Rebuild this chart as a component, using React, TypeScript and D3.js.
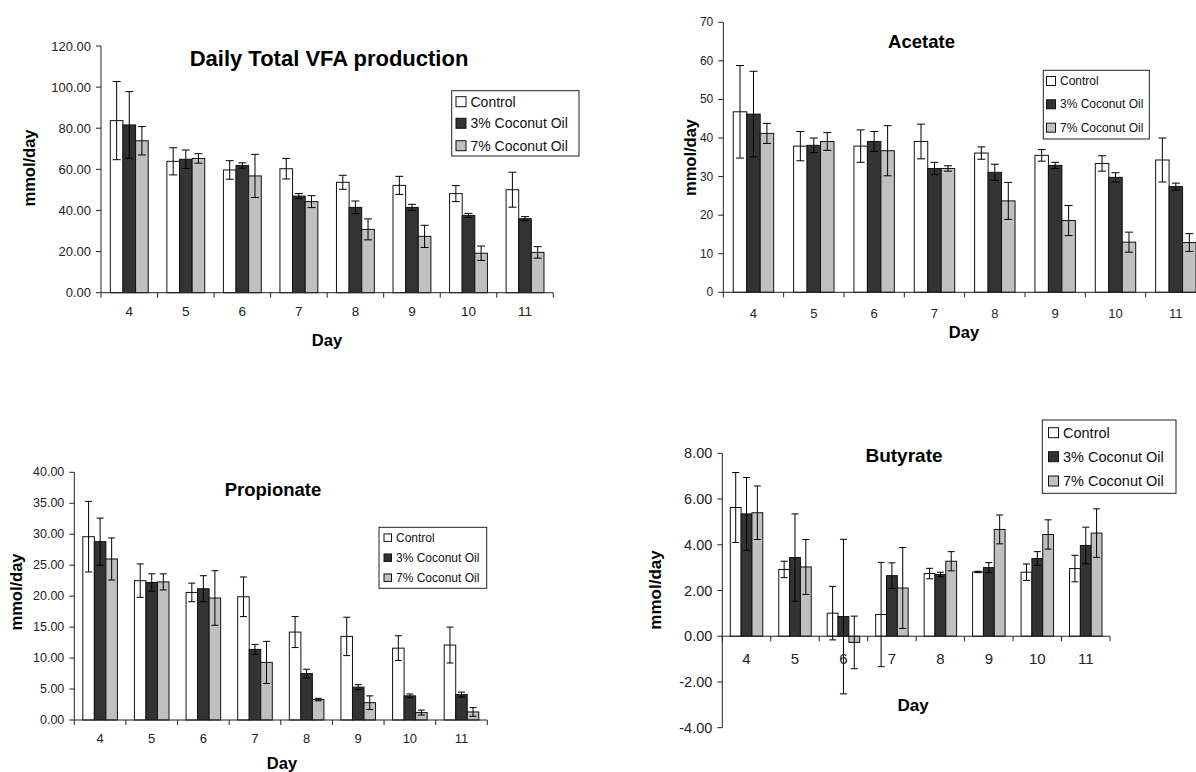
import React from 'react';
import * as d3 from 'd3';

const DAYS = ['4', '5', '6', '7', '8', '9', '10', '11'];
const SERIES = ['Control', '3% Coconut Oil', '7% Coconut Oil'];
const FILLS = ['#FFFFFF', '#333333', '#C0C0C0'];

// Daily total VFA (mmol/day)
const vfaControl = [83.7, 63.9, 59.7, 60.3, 53.7, 52.2, 48.2, 50.1];
const vfaOil3 = [81.6, 64.9, 61.9, 47.0, 41.5, 41.5, 37.6, 36.0];
const vfaOil7 = [73.9, 65.3, 56.8, 44.3, 30.8, 27.4, 19.2, 19.6];
const vfaControlErr = [19.0, 6.6, 4.5, 5.0, 3.4, 4.4, 3.9, 8.5];
const vfaOil3Err = [16.2, 4.5, 1.3, 1.2, 3.1, 1.5, 1.0, 1.0];
const vfaOil7Err = [6.9, 2.3, 10.5, 2.9, 5.1, 5.4, 3.5, 2.8];

// Acetate
const aceControl = [46.8, 37.9, 37.9, 39.1, 36.1, 35.5, 33.4, 34.3];
const aceOil3 = [46.2, 38.1, 39.1, 32.1, 31.1, 32.9, 29.8, 27.4];
const aceOil7 = [41.2, 39.1, 36.7, 32.1, 23.7, 18.6, 13.0, 12.9];
const aceControlErr = [12.0, 3.8, 4.2, 4.5, 1.6, 1.5, 2.0, 5.7];
const aceOil3Err = [11.1, 1.9, 2.6, 1.6, 2.1, 0.8, 1.2, 0.9];
const aceOil7Err = [2.6, 2.3, 6.5, 0.7, 4.8, 3.9, 2.6, 2.3];

// Propionate
const proControl = [29.6, 22.5, 20.6, 19.9, 14.2, 13.5, 11.6, 12.1];
const proOil3 = [28.8, 22.2, 21.2, 11.4, 7.5, 5.3, 3.9, 4.1];
const proOil7 = [26.0, 22.3, 19.7, 9.3, 3.3, 2.8, 1.2, 1.3];
const proControlErr = [5.7, 2.7, 1.5, 3.2, 2.5, 3.1, 2.0, 2.9];
const proOil3Err = [3.8, 1.4, 2.1, 0.8, 0.7, 0.4, 0.3, 0.4];
const proOil7Err = [3.4, 1.3, 4.4, 3.4, 0.2, 1.1, 0.4, 0.7];

// Butyrate
const butControl = [5.63, 2.92, 1.01, 0.95, 2.74, 2.81, 2.80, 2.96];
const butOil3 = [5.35, 3.44, 0.86, 2.65, 2.70, 3.00, 3.40, 3.97];
const butOil7 = [5.40, 3.03, -0.27, 2.11, 3.28, 4.67, 4.45, 4.51];
const butControlErr = [1.53, 0.36, 1.17, 2.28, 0.23, 0.03, 0.36, 0.58];
const butOil3Err = [1.59, 1.91, 3.38, 0.56, 0.10, 0.22, 0.30, 0.80];
const butOil7Err = [1.17, 1.20, 1.15, 1.77, 0.42, 0.63, 0.64, 1.06];

const FONT = "Arial, 'Liberation Sans', sans-serif";

interface PanelProps {
  title: string;
  values: number[][];
  errors: number[][];
  domain: [number, number];
  ticks: number[];
  fmt: (v: number) => string;
  left: number; right: number; top: number; bottom: number;
  tickFont: number; xTickFont: number; xLabelDy: number;
  titleFont: number; titleX: number; titleY: number;
  axisFont: number; dayX: number; dayY: number; yLabX: number; yLabY: number;
  legend: { x: number; y: number; w: number; h: number; rows: number[]; sw: number; tx: number; font: number };
  cap: number;
}

function Panel(p: PanelProps) {
  const y = d3.scaleLinear().domain(p.domain).range([p.bottom, p.top]);
  const x = d3.scaleBand<string>().domain(DAYS).range([p.left, p.right]).paddingInner(0.33).paddingOuter(0.165);
  const xs = d3.scaleBand<number>().domain([0, 1, 2]).range([0, x.bandwidth()]);
  const step = x.step();
  const y0 = y(0);
  const bounds = d3.range(DAYS.length + 1).map(i => p.left + i * step);

  return (
    <g fontFamily={FONT}>
      {/* bars */}
      {p.values.map((vals, s) => vals.map((v, i) => {
        const bx = (x(DAYS[i]) ?? 0) + (xs(s) ?? 0);
        return (
          <rect key={`b${s}-${i}`} x={bx} y={Math.min(y(v), y0)} width={xs.bandwidth()}
            height={Math.abs(y(v) - y0)} fill={FILLS[s]} stroke="#111" strokeWidth={1} />
        );
      }))}
      {/* error bars */}
      {p.values.map((vals, s) => vals.map((v, i) => {
        const cx = (x(DAYS[i]) ?? 0) + (xs(s) ?? 0) + xs.bandwidth() / 2;
        const e = p.errors[s][i];
        const yt = y(v + e), yb = y(v - e);
        return (
          <g key={`e${s}-${i}`} stroke="#000" strokeWidth={1}>
            <line x1={cx} x2={cx} y1={yt} y2={yb} />
            <line x1={cx - p.cap} x2={cx + p.cap} y1={yt} y2={yt} />
            <line x1={cx - p.cap} x2={cx + p.cap} y1={yb} y2={yb} />
          </g>
        );
      }))}
      {/* y axis */}
      <line x1={p.left} x2={p.left} y1={p.top} y2={p.bottom} stroke="#222" />
      {p.ticks.map(t => (
        <g key={`yt${t}`}>
          <line x1={p.left - 5} x2={p.left} y1={y(t)} y2={y(t)} stroke="#222" />
          <text x={p.left - 10} y={y(t)} textAnchor="end" dominantBaseline="central"
            fontSize={p.tickFont} fill="#222">{p.fmt(t)}</text>
        </g>
      ))}
      {/* x axis */}
      <line x1={p.left} x2={p.right} y1={y0} y2={y0} stroke="#222" />
      {bounds.map((b, i) => (
        <line key={`xt${i}`} x1={b} x2={b} y1={y0} y2={y0 + 5} stroke="#222" />
      ))}
      {DAYS.map(d => (
        <text key={`xl${d}`} x={(x(d) ?? 0) + x.bandwidth() / 2} y={y0 + p.xLabelDy}
          textAnchor="middle" dominantBaseline="central" fontSize={p.xTickFont} fill="#222">{d}</text>
      ))}
      {/* titles */}
      <text x={p.titleX} y={p.titleY} textAnchor="middle" fontWeight="bold" fontSize={p.titleFont}>{p.title}</text>
      <text x={p.dayX} y={p.dayY} textAnchor="middle" dominantBaseline="central" fontWeight="bold" fontSize={p.axisFont}>Day</text>
      <text transform={`translate(${p.yLabX},${p.yLabY}) rotate(-90)`} textAnchor="middle"
        dominantBaseline="central" fontWeight="bold" fontSize={p.axisFont}>mmol/day</text>
      {/* legend */}
      <rect x={p.legend.x} y={p.legend.y} width={p.legend.w} height={p.legend.h} fill="#fff" stroke="#222" />
      {SERIES.map((name, s) => (
        <g key={`lg${s}`}>
          <rect x={p.legend.tx - p.legend.sw - 4.5} y={p.legend.rows[s] - p.legend.sw / 2}
            width={p.legend.sw} height={p.legend.sw} fill={FILLS[s]} stroke="#111" />
          <text x={p.legend.tx} y={p.legend.rows[s]} dominantBaseline="central"
            fontSize={p.legend.font} fill="#111">{name}</text>
        </g>
      ))}
    </g>
  );
}

const fmt2 = (v: number) => v.toFixed(2);
const fmt0 = (v: number) => v.toFixed(0);

export default function App() {
  return (
    <svg width={1196} height={772} style={{ position: 'absolute', left: 0, top: 0, background: '#fff' }}>
      <Panel title="Daily Total VFA production"
        values={[vfaControl, vfaOil3, vfaOil7]} errors={[vfaControlErr, vfaOil3Err, vfaOil7Err]}
        domain={[0, 120]} ticks={d3.range(0, 121, 20)} fmt={fmt2}
        left={101} right={553.3} top={46} bottom={292.7}
        tickFont={13} xTickFont={13.5} xLabelDy={19}
        titleFont={22} titleX={329} titleY={66}
        axisFont={16.5} dayX={327} dayY={340} yLabX={29} yLabY={168}
        legend={{ x: 451.7, y: 90.7, w: 127.3, h: 65.3, rows: [101.7, 123.3, 145.7], sw: 10, tx: 470.5, font: 14 }}
        cap={4} />
      <Panel title="Acetate"
        values={[aceControl, aceOil3, aceOil7]} errors={[aceControlErr, aceOil3Err, aceOil7Err]}
        domain={[0, 70]} ticks={d3.range(0, 71, 10)} fmt={fmt0}
        left={723.3} right={1206} top={22.3} bottom={292.3}
        tickFont={12} xTickFont={13} xLabelDy={21}
        titleFont={18.5} titleX={921.5} titleY={48.3}
        axisFont={16.5} dayX={964} dayY={331.7} yLabX={690} yLabY={157.5}
        legend={{ x: 1043.3, y: 70.3, w: 106, h: 68.7, rows: [81, 104.3, 127.7], sw: 9, tx: 1060, font: 12 }}
        cap={4} />
      <Panel title="Propionate"
        values={[proControl, proOil3, proOil7]} errors={[proControlErr, proOil3Err, proOil7Err]}
        domain={[0, 40]} ticks={d3.range(0, 41, 5)} fmt={fmt2}
        left={74.3} right={487.3} top={472.3} bottom={720}
        tickFont={12.5} xTickFont={13} xLabelDy={18}
        titleFont={18.5} titleX={273} titleY={495.7}
        axisFont={16.5} dayX={282} dayY={763} yLabX={16} yLabY={592}
        legend={{ x: 379, y: 527.3, w: 107.7, h: 61, rows: [537.7, 557.7, 577.7], sw: 7.5, tx: 396, font: 12 }}
        cap={3.5} />
      <Panel title="Butyrate"
        values={[butControl, butOil3, butOil7]} errors={[butControlErr, butOil3Err, butOil7Err]}
        domain={[-4, 8]} ticks={d3.range(-4, 9, 2)} fmt={fmt2}
        left={722.3} right={1110} top={453.3} bottom={727.7}
        tickFont={14.5} xTickFont={15} xLabelDy={22}
        titleFont={19} titleX={904} titleY={462.3}
        axisFont={17} dayX={913} dayY={705} yLabX={655} yLabY={590}
        legend={{ x: 1042.3, y: 420, w: 133.7, h: 73.3, rows: [432.7, 456.7, 481], sw: 10, tx: 1063, font: 14.5 }}
        cap={3.5} />
    </svg>
  );
}
